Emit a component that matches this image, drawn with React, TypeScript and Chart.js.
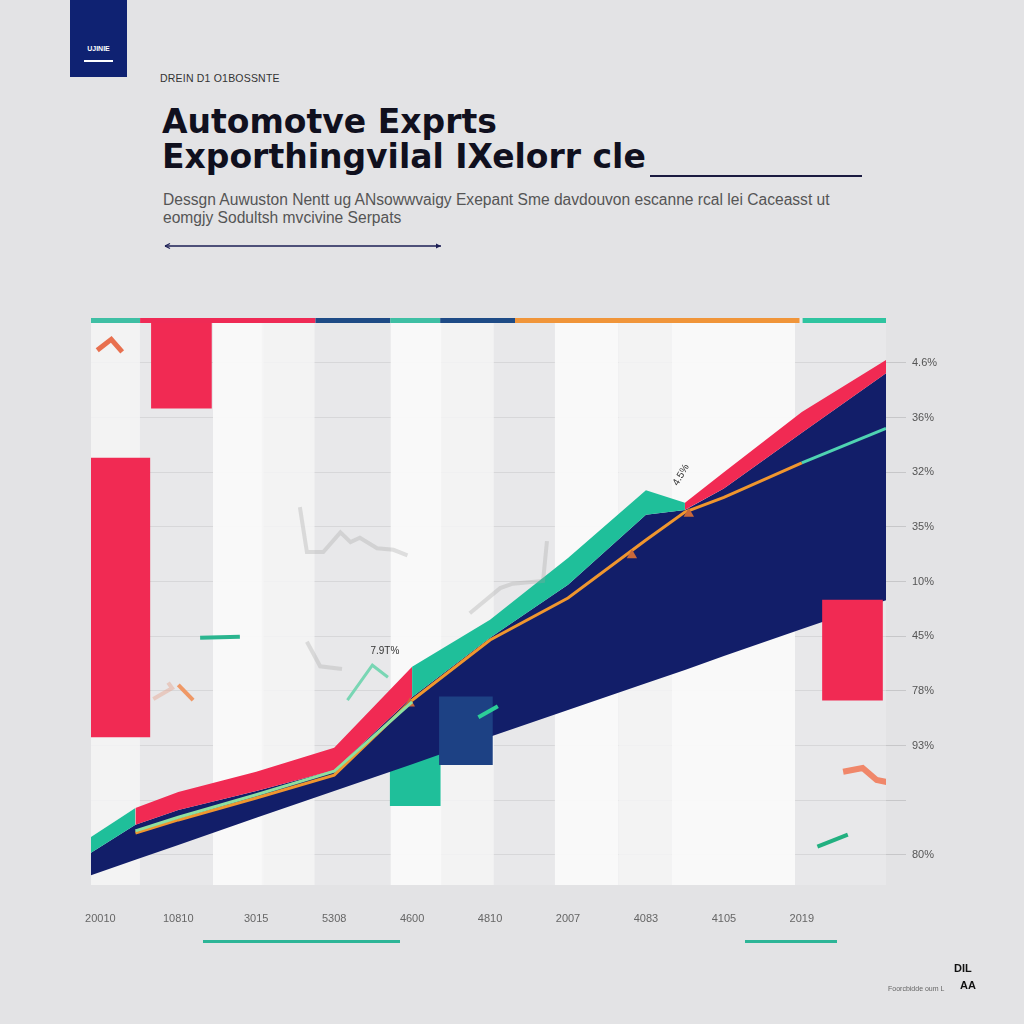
import React, { useEffect, useRef } from "react";
import { Chart, registerables } from "chart.js";

Chart.register(...registerables);

// ---------- data ----------
const xLabels = ["20010", "10810", "3015", "5308", "4600", "4810", "2007", "4083", "4105", "2019"];
const xTickVals = [0, 1, 2, 3, 4, 5, 6, 7, 8, 9];
const yLabels = ["80%", "", "93%", "78%", "45%", "10%", "35%", "32%", "36%", "4.6%"];
const yTickVals = [0, 1, 2, 3, 4, 5, 6, 7, 8, 9];

const xs = [-0.12, 0.45, 1, 2, 3, 4, 5, 6, 7, 7.5, 8, 9, 10.08];
const navyBottom = [-0.37, -0.09, 0.18, 0.68, 1.17, 1.66, 2.16, 2.65, 3.14, 3.38, 3.64, 4.13, 4.66];
const navyTop = [0.04, 0.55, 0.82, 1.17, 1.55, 2.89, 3.97, 4.94, 6.22, 6.31, 6.7, 7.72, 8.81];
const bandTop = [0.33, 0.86, 1.15, 1.52, 1.96, 3.44, 4.3, 5.43, 6.67, 6.44, 7.0, 8.1, 9.05];
const orangeLine = [null, 0.4, 0.64, 1.04, 1.46, 2.83, 3.93, 4.7, 5.76, 6.27, 6.54, 7.17, null];
const greenLine = [null, 0.44, 0.69, 1.1, 1.53, 2.8, null, null, null, null, null, 7.17, 7.8];
const bandTealRanges = [[-1, 0.45], [4, 7.5]];

const orangeMarkers: [number, number][] = [[3.97, 2.77], [6.82, 5.48], [7.55, 6.24]];

const redBars: [number, number, number][] = [[1.04, 8.17, 9.82], [0.25, 2.16, 7.26], [9.65, 2.83, 4.66]];
const tealBars: [number, number, number][] = [[4.04, 0.9, 1.88]];
const navyBars: [number, number, number][] = [[4.69, 1.65, 2.89]];

const stripesWhiteA = [1.77, 4.05];
const stripesWhiteB = [6.24];
const stripesWhiteC = [8.12];
const stripesLight = [0.17, 2.41, 4.71, 6.99];
const stripeRange: [number, number] = [-0.6, 9.85];

const decoTopZig: [number, number][] = [[-0.04, 9.23], [0.14, 9.43], [0.28, 9.2]];
const decoTealDash: [number, number][] = [[1.28, 3.97], [1.79, 3.99]];
const decoSalmonDash: [number, number][] = [[1.0, 3.11], [1.19, 2.83]];
const decoFaintZig: [number, number][] = [[0.68, 2.85], [0.92, 3.05], [0.87, 3.15]];
const decoTealZig: [number, number][] = [[3.17, 2.83], [3.49, 3.47], [3.69, 3.25]];
const decoGreenDash: [number, number][] = [[4.85, 2.52], [5.1, 2.72]];
const decoSalmonZig: [number, number][] = [[9.53, 1.52], [9.78, 1.59], [9.96, 1.37], [10.1, 1.33]];
const decoTealSmall: [number, number][] = [[9.2, 0.15], [9.59, 0.37]];
const ghostA: [number, number][] = [[2.56, 6.36], [2.65, 5.54], [2.86, 5.54], [3.08, 5.9], [3.21, 5.72], [3.33, 5.8], [3.55, 5.61], [3.76, 5.58], [3.94, 5.48]];
const ghostB: [number, number][] = [[4.74, 4.42], [5.13, 4.88], [5.29, 4.96], [5.68, 5.01], [5.73, 5.74]];
const ghostC: [number, number][] = [[2.65, 3.9], [2.82, 3.45], [3.1, 3.4]];

const topStripe: [number, number, string][] = [
  [-0.12, 0.51, "#3fbfa4"],
  [0.51, 2.76, "#ef2a55"],
  [2.76, 3.72, "#1e4b86"],
  [3.72, 4.36, "#3fbfa4"],
  [4.36, 5.32, "#1e4b86"],
  [5.32, 8.97, "#f0953a"],
  [9.01, 10.08, "#2fc4a0"],
];

const notes: [string, number, number, number][] = [
  ["7.9T%", 3.65, 3.72, 0],
  ["4.5%", 7.45, 6.95, -1.05],
];

// ---------- colours ----------
const NAVY = "#121e69";
const RED = "#f12a53";
const TEAL = "#1fbf9a";
const ORANGE = "#f0962e";

const pts = (arr: (number | null)[]) => xs.map((x, i) => ({ x, y: arr[i] }));
const pairs = (arr: [number, number][]) => arr.map(([x, y]) => ({ x, y }));
const inTeal = (x: number) => bandTealRanges.some(([a, b]) => x >= a && x < b);

function deco(data: [number, number][], color: string, width: number) {
  return {
    type: "line" as const,
    data: pairs(data),
    borderColor: color,
    borderWidth: width,
    pointRadius: 0,
    fill: false,
    tension: 0,
    order: 0,
    borderCapStyle: "butt" as const,
  };
}

function stripe(xsArr: number[], color: string, thickness: number) {
  return {
    type: "bar" as const,
    data: xsArr.map((x) => ({ x, y: stripeRange })),
    backgroundColor: color,
    barThickness: thickness,
    grouped: false,
    order: 20,
  };
}

function bars(list: [number, number, number][], color: string, thickness: number, order: number) {
  return {
    type: "bar" as const,
    data: list.map(([x, lo, hi]) => ({ x, y: [lo, hi] })),
    backgroundColor: color,
    barThickness: thickness,
    grouped: false,
    order,
  };
}

const plotBgPlugin = {
  id: "plotBg",
  beforeDraw(chart: any) {
    const { ctx, chartArea: a } = chart;
    ctx.save();
    ctx.fillStyle = "#e8e8ea";
    ctx.fillRect(a.left, a.top, a.right - a.left, a.bottom - a.top);
    ctx.restore();
  },
  afterDatasetsDraw(chart: any) {
    const { ctx, chartArea: a, scales } = chart;
    const xS = scales.x;
    const yS = scales.y;
    ctx.save();
    for (const [s, e, c] of topStripe) {
      const x0 = xS.getPixelForValue(s);
      const x1 = xS.getPixelForValue(e);
      ctx.fillStyle = c;
      ctx.fillRect(x0, a.top, x1 - x0, 5);
    }
    ctx.fillStyle = "#333";
    ctx.font = "10px 'Liberation Sans', Arial, sans-serif";
    ctx.textAlign = "center";
    ctx.textBaseline = "middle";
    for (const [t, x, y, r] of notes) {
      ctx.save();
      ctx.translate(xS.getPixelForValue(x), yS.getPixelForValue(y));
      ctx.rotate(r);
      ctx.fillText(t, 0, 0);
      ctx.restore();
    }
    ctx.restore();
  },
};

function ChartView() {
  const ref = useRef<HTMLCanvasElement | null>(null);
  useEffect(() => {
    if (!ref.current) return;
    const chart = new Chart(ref.current, {
      type: "line",
      data: {
        datasets: [
          {
            type: "line",
            data: pts(navyBottom),
            borderWidth: 0,
            borderColor: "rgba(0,0,0,0)",
            pointRadius: 0,
            fill: false,
            tension: 0,
            order: 8,
          },
          {
            type: "line",
            data: pts(navyTop),
            borderWidth: 0,
            borderColor: "rgba(0,0,0,0)",
            backgroundColor: NAVY,
            pointRadius: 0,
            fill: "-1",
            tension: 0,
            order: 7,
          },
          {
            type: "line",
            data: pts(bandTop),
            borderWidth: 0,
            borderColor: "rgba(0,0,0,0)",
            backgroundColor: RED,
            pointRadius: 0,
            fill: "-1",
            tension: 0,
            order: 6,
            segment: {
              backgroundColor: (c: any) => (inTeal(c.p0.parsed.x) ? TEAL : RED),
            },
          },
          {
            type: "line",
            data: pts(orangeLine),
            borderColor: ORANGE,
            borderWidth: 3,
            pointRadius: 0,
            fill: false,
            tension: 0,
            order: 1,
          },
          {
            type: "line",
            data: pts(greenLine),
            borderColor: "#7fdc9c",
            borderWidth: 3,
            pointRadius: 0,
            fill: false,
            tension: 0,
            order: 0,
            segment: {
              borderColor: (c: any) => (c.p0.parsed.x > 8 ? "#4fd3b2" : "#8ee0a0"),
            },
          },
          {
            type: "scatter",
            data: pairs(orangeMarkers),
            pointStyle: "triangle",
            pointRadius: 6,
            backgroundColor: "#c9683a",
            borderWidth: 0,
            order: 0,
          },
          bars(redBars, RED, 60, 2),
          bars(tealBars, TEAL, 50, 9),
          bars(navyBars, "#1d4184", 53, 2),
          stripe(stripesLight, "rgba(244,244,245,0.85)", 52),
          stripe(stripesWhiteA, "rgba(250,250,250,0.95)", 50),
          stripe(stripesWhiteB, "rgba(250,250,250,0.95)", 63),
          stripe(stripesWhiteC, "rgba(250,250,250,0.95)", 123),
          deco(ghostA, "rgba(160,160,160,0.3)", 4),
          deco(ghostB, "rgba(160,160,160,0.3)", 4),
          deco(ghostC, "rgba(160,160,160,0.3)", 4),
          deco(decoTopZig, "#e8704f", 5),
          deco(decoTealDash, "#2bb58f", 4),
          deco(decoSalmonDash, "#ef9866", 4),
          deco(decoFaintZig, "rgba(230,170,150,0.5)", 4),
          deco(decoTealZig, "#79d6b4", 3),
          deco(decoGreenDash, "#2ccf98", 4),
          deco(decoSalmonZig, "#f0876a", 6),
          deco(decoTealSmall, "#22b080", 4),
        ] as any,
      },
      options: {
        animation: false,
        responsive: false,
        maintainAspectRatio: false,
        events: [],
        layout: { padding: { left: 91, top: 28, right: 58, bottom: 15 } },
        plugins: { legend: { display: false }, tooltip: { enabled: false } },
        scales: {
          x: {
            type: "linear",
            offset: false,
            min: -0.12,
            max: 10.08,
            afterBuildTicks: (s: any) => {
              s.ticks = xTickVals.map((v) => ({ value: v }));
            },
            afterFit: (s: any) => {
              s.height = 50;
            },
            ticks: {
              autoSkip: false,
              maxRotation: 0,
              padding: 27,
              color: "#666",
              font: { family: "'Liberation Sans', Arial, sans-serif", size: 11 },
              callback: (_v: any, i: number) => xLabels[i] ?? "",
            },
            grid: { display: false, drawTicks: false, offset: false },
            border: { display: false },
          },
          y: {
            type: "linear",
            position: "right",
            min: -0.55,
            max: 9.82,
            afterBuildTicks: (s: any) => {
              s.ticks = yTickVals.map((v) => ({ value: v }));
            },
            afterFit: (s: any) => {
              s.width = 80;
            },
            ticks: {
              autoSkip: false,
              padding: 6,
              color: "#555",
              font: { family: "'Liberation Sans', Arial, sans-serif", size: 11 },
              callback: (_v: any, i: number) => yLabels[i] ?? "",
            },
            grid: {
              color: "rgba(0,0,0,0.07)",
              tickColor: "rgba(0,0,0,0.12)",
              tickLength: 20,
              drawTicks: true,
            },
            border: { display: false },
          },
        },
      } as any,
      plugins: [plotBgPlugin],
    });
    return () => chart.destroy();
  }, []);
  return (
    <canvas
      ref={ref}
      width={1024}
      height={660}
      style={{ position: "absolute", left: 0, top: 290, width: 1024, height: 660 }}
    />
  );
}

export default function App() {
  const font = "'Liberation Sans', Arial, sans-serif";
  return (
    <div
      style={{
        position: "fixed",
        left: 0,
        top: 0,
        width: 1024,
        height: 1024,
        background: "#e3e3e5",
        overflow: "hidden",
        fontFamily: font,
      }}
    >
      <div style={{ position: "absolute", left: 70, top: 0, width: 57, height: 77, background: "#0f2272" }}>
        <div style={{ position: "absolute", left: 0, top: 45, width: 57, textAlign: "center", color: "#fff", fontSize: 7, fontWeight: "bold" }}>
          UJINIE
        </div>
        <div style={{ position: "absolute", left: 14, top: 60, width: 29, height: 1.5, background: "#fff" }} />
      </div>
      <div style={{ position: "absolute", left: 160, top: 72, fontSize: 10.5, color: "#333", letterSpacing: 0.2 }}>
        DREIN D1 O1BOSSNTE
      </div>
      <div
        style={{
          position: "absolute",
          left: 162,
          top: 104,
          fontFamily: "'DejaVu Sans', sans-serif",
          fontSize: 33,
          fontWeight: "bold",
          lineHeight: "35px",
          color: "#10101e",
          whiteSpace: "nowrap",
        }}
      >
        Automotve Exprts
        <br />
        Exporthingvilal IXelorr cle
      </div>
      <div style={{ position: "absolute", left: 650, top: 175, width: 212, height: 2, background: "#1a1a40" }} />
      <div style={{ position: "absolute", left: 163, top: 191, fontSize: 15.6, color: "#555", lineHeight: "18px", whiteSpace: "nowrap" }}>
        Dessgn Auwuston Nentt ug ANsowwvaigy Exepant Sme davdouvon escanne rcal lei Caceasst ut
        <br />
        eomgjy Sodultsh mvcivine Serpats
      </div>
      <svg style={{ position: "absolute", left: 160, top: 240 }} width={290} height={12}>
        <line x1={5} y1={6} x2={281} y2={6} stroke="#1c1f55" strokeWidth={1.6} />
        <path d="M5 6 L10 3.5 M5 6 L10 8.5" stroke="#1c1f55" strokeWidth={1.2} />
        <path d="M281 6 L276 3.5 L276 8.5 Z" fill="#1c1f55" />
      </svg>
      <ChartView />
      <div style={{ position: "absolute", left: 203, top: 940, width: 197, height: 3, background: "#2db597" }} />
      <div style={{ position: "absolute", left: 745, top: 940, width: 92, height: 3, background: "#2db597" }} />
      <div style={{ position: "absolute", left: 954, top: 962, fontSize: 11, fontWeight: "bold", color: "#111" }}>DIL</div>
      <div style={{ position: "absolute", left: 888, top: 985, fontSize: 7, color: "#666" }}>Foorcbidde oum L</div>
      <div style={{ position: "absolute", left: 960, top: 979, fontSize: 11, fontWeight: "bold", color: "#111" }}>AA</div>
    </div>
  );
}
